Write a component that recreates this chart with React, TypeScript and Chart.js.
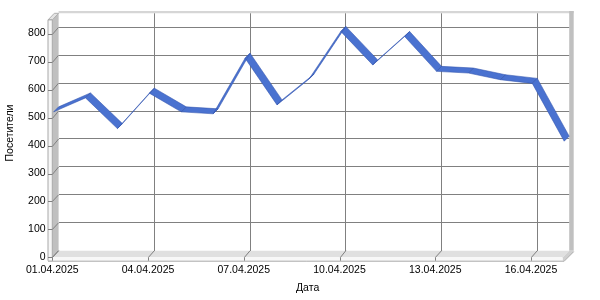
import { useEffect, useRef } from 'react';
import { Chart, registerables } from 'chart.js';

Chart.register(...registerables);

const dates = [
  '01.04.2025', '02.04.2025', '03.04.2025', '04.04.2025', '05.04.2025', '06.04.2025',
  '07.04.2025', '08.04.2025', '09.04.2025', '10.04.2025', '11.04.2025', '12.04.2025',
  '13.04.2025', '14.04.2025', '15.04.2025', '16.04.2025', '17.04.2025',
];
const visitors = [515, 565, 455, 582, 515, 508, 707, 540, 632, 803, 683, 785, 660, 654, 630, 617, 410];
const yMax = 850;
const yStep = 100;
const xLabelEvery = 3;
const xTitle = 'Дата';
const yTitle = 'Посетители';

const FONT_FAMILY = '"Liberation Sans", Arial, sans-serif';
const FONT_SIZE = 10.5;
// depth offset of the 3D frame (front relative to back plane)
const AX_DX = -6.3;
const AX_DY = 6.6;
// depth of the ribbon
const RB_DX = -5;
const RB_DY = 5;

const poly = (ctx: CanvasRenderingContext2D, pts: number[][], fill?: string, stroke?: string) => {
  ctx.beginPath();
  pts.forEach((p, i) => (i === 0 ? ctx.moveTo(p[0], p[1]) : ctx.lineTo(p[0], p[1])));
  ctx.closePath();
  if (fill) {
    ctx.fillStyle = fill;
    ctx.fill();
  }
  if (stroke) {
    ctx.strokeStyle = stroke;
    ctx.lineWidth = 1;
    ctx.stroke();
  }
};

const frame3d = {
  id: 'frame3d',
  beforeDraw(chart: any) {
    const { ctx } = chart;
    const { left: L, right: R, top: T, bottom: B } = chart.chartArea;
    const FB = B + AX_DY; // front floor edge
    const FL = L + AX_DX; // front left edge
    const FR = R + AX_DX;
    const floorFront = FB + 3.4;
    const wallFrontL = FL - 4.3;
    ctx.save();
    // back wall top edge
    poly(ctx, [[L, T - 2.3], [R + 4.5, T - 2.3], [R + 4.5, T], [L, T]], '#d6d6d6');
    // back wall right side
    poly(ctx, [[R, T - 2.3], [R + 4.5, T - 2.3], [R + 4.5, B], [R, B]], '#c0c0c0');
    // left wall inner face
    poly(ctx, [[L, T], [L, B], [FL, FB], [FL, T + AX_DY]], '#c0c0c0');
    // left wall top
    poly(ctx, [[wallFrontL, T + AX_DY], [FL, T + AX_DY], [L, T], [L - 4.3, T]], '#e4e4e4', '#b0b0b0');
    // left wall front face
    poly(ctx, [[wallFrontL, T + AX_DY], [FL, T + AX_DY], [FL, floorFront], [wallFrontL, floorFront]], '#f6f6f6', '#a8a8a8');
    // floor top face
    poly(ctx, [[L, B], [R, B], [FR, FB], [FL, FB]], '#e0e0e0');
    // floor front face
    poly(ctx, [[FL, FB], [FR + 1.3, FB], [FR + 1.3, floorFront], [wallFrontL, floorFront]], '#f8f8f8');
    // floor right side
    poly(ctx, [[FR, FB], [R, B], [R + 4.5, B], [R + 4.5, B + 1], [FR + 1.3, floorFront], [FR, floorFront]], '#d0d0d0');
    ctx.strokeStyle = '#a8a8a8';
    ctx.lineWidth = 1;
    ctx.beginPath();
    ctx.moveTo(wallFrontL, floorFront + 0.5);
    ctx.lineTo(FR + 1.3, floorFront + 0.5);
    ctx.lineTo(R + 4.5, B + 1);
    ctx.stroke();

    // y ticks
    const ys = chart.scales.y;
    ctx.strokeStyle = '#808080';
    ctx.beginPath();
    ys.ticks.forEach((t: any) => {
      const yb = ys.getPixelForValue(t.value);
      const yf = yb + AX_DY;
      ctx.moveTo(wallFrontL, Math.round(yf) + 0.5);
      ctx.lineTo(FL, Math.round(yf) + 0.5);
      ctx.lineTo(L, yb);
    });
    // x ticks
    const xs = chart.scales.x;
    for (let i = 0; i < dates.length; i += xLabelEvery) {
      const xb = xs.getPixelForValue(i);
      const xf = xb + AX_DX;
      ctx.moveTo(Math.round(xf) + 0.5, floorFront);
      ctx.lineTo(Math.round(xf) + 0.5, FB);
      ctx.lineTo(xb, B);
    }
    ctx.stroke();
    ctx.restore();
  },
  afterDatasetsDraw(chart: any) {
    const { ctx } = chart;
    const pts = chart.getDatasetMeta(0).data.map((p: any) => [p.x, p.y]);
    ctx.save();
    for (let i = 0; i < pts.length - 1; i++) {
      const a = pts[i];
      const b = pts[i + 1];
      poly(
        ctx,
        [a, b, [b[0] + RB_DX, b[1] + RB_DY], [a[0] + RB_DX, a[1] + RB_DY]],
        '#4a72d0',
      );
    }
    ctx.strokeStyle = 'rgba(50, 85, 175, 0.7)';
    ctx.lineWidth = 0.8;
    for (let i = 0; i < pts.length - 1; i++) {
      const a = pts[i];
      const b = pts[i + 1];
      poly(ctx, [a, b, [b[0] + RB_DX, b[1] + RB_DY], [a[0] + RB_DX, a[1] + RB_DY]], undefined, undefined);
      ctx.stroke();
    }
    ctx.restore();
  },
  afterDraw(chart: any) {
    const { ctx } = chart;
    const { left: L, right: R, top: T, bottom: B } = chart.chartArea;
    ctx.save();
    ctx.fillStyle = '#000';
    ctx.font = `${FONT_SIZE}px ${FONT_FAMILY}`;
    ctx.textAlign = 'center';
    ctx.textBaseline = 'middle';
    ctx.fillText(xTitle, (L + R) / 2 + AX_DX, 288);
    ctx.translate(10, (T + B) / 2 + 1);
    ctx.rotate(-Math.PI / 2);
    ctx.fillText(yTitle, 0, 0);
    ctx.restore();
  },
};

export default function App() {
  const ref = useRef<HTMLCanvasElement | null>(null);
  useEffect(() => {
    if (!ref.current) return;
    const font = { family: FONT_FAMILY, size: FONT_SIZE };
    const chart = new Chart(ref.current, {
      type: 'line',
      data: {
        labels: dates,
        datasets: [
          {
            data: visitors,
            showLine: false,
            pointRadius: 0,
            borderWidth: 0,
          },
        ],
      },
      options: {
        animation: false,
        responsive: false,
        events: [],
        layout: { padding: { left: 0, top: 13.3, right: 30.8, bottom: 0 } },
        plugins: { legend: { display: false }, tooltip: { enabled: false } },
        scales: {
          x: {
            type: 'category',
            offset: false,
            border: { display: false },
            grid: {
              drawTicks: false,
              color: (c: any) => (c.index > 0 && c.index % xLabelEvery === 0 ? '#808080' : 'transparent'),
            },
            ticks: {
              autoSkip: false,
              maxRotation: 0,
              padding: 13.5,
              labelOffset: AX_DX,
              color: '#000',
              font,
              callback: (_v: any, i: number) => (i % xLabelEvery === 0 ? dates[i] : ''),
            },
            afterFit: (s: any) => {
              s.height = 49.3;
              s.paddingLeft = 0;
              s.paddingRight = 0;
            },
          },
          y: {
            min: 0,
            max: yMax,
            border: { display: false },
            grid: {
              drawTicks: false,
              color: (c: any) => (c.tick && c.tick.value > 0 ? '#808080' : 'transparent'),
            },
            ticks: {
              stepSize: yStep,
              padding: 13,
              labelOffset: 6.3,
              color: '#000',
              font,
            },
            afterBuildTicks: (s: any) => {
              s.ticks = s.ticks.filter((t: any) => t.value % yStep === 0);
            },
            afterFit: (s: any) => {
              s.width = 58.6;
              s.paddingTop = 0;
              s.paddingBottom = 0;
            },
          },
        },
      },
      plugins: [frame3d],
    });
    return () => chart.destroy();
  }, []);
  return (
    <div style={{ position: 'absolute', left: 0, top: 0, width: 600, height: 300 }}>
      <canvas ref={ref} width={600} height={300} />
    </div>
  );
}
